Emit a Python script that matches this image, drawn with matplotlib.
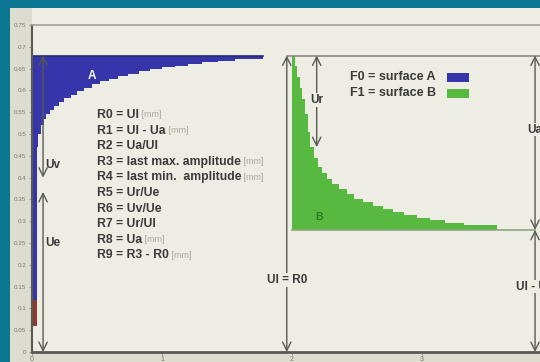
import matplotlib.pyplot as plt
from matplotlib.patches import Rectangle

# step curve bounding surface A (lower edge of the blue area)
blue_x = [0.0, 0.035, 0.05, 0.07, 0.09, 0.11, 0.14, 0.17, 0.21, 0.25, 0.30, 0.35, 0.40, 0.46,
          0.52, 0.59, 0.66, 0.74, 0.82, 0.91, 1.00, 1.10, 1.20, 1.31, 1.43, 1.56, 1.78]
blue_lo = [0.12, 0.47, 0.50, 0.52, 0.535, 0.545, 0.556, 0.565, 0.574, 0.582, 0.59, 0.598, 0.606, 0.614,
           0.621, 0.627, 0.633, 0.638, 0.644, 0.649, 0.653, 0.657, 0.661, 0.665, 0.668, 0.671, 0.671]
blue_top = 0.68
red_strip = (0.06, 0.12)

# step curve bounding surface B (upper edge of the green area)
green_x = [2.0, 2.02, 2.04, 2.06, 2.08, 2.10, 2.12, 2.14, 2.17, 2.20, 2.23, 2.27, 2.31, 2.36,
           2.42, 2.48, 2.55, 2.62, 2.70, 2.78, 2.86, 2.96, 3.06, 3.18, 3.32, 3.58]
green_top = [0.68, 0.655, 0.63, 0.605, 0.58, 0.545, 0.505, 0.47, 0.445, 0.425, 0.41, 0.397, 0.385, 0.373,
             0.362, 0.352, 0.343, 0.336, 0.328, 0.321, 0.314, 0.308, 0.302, 0.297, 0.292, 0.292]
green_base = 0.28

ratios = ['R0 = Ul', 'R1 = Ul - Ua', 'R2 = Ua/Ul', 'R3 = last max. amplitude',
          'R4 = last min.  amplitude', 'R5 = Ur/Ue', 'R6 = Uv/Ue', 'R7 = Ur/Ul',
          'R8 = Ua', 'R9 = R3 - R0']
has_unit = [True, True, False, True, True, False, False, False, True, True]
legend_labels = ['F0 = surface A', 'F1 = surface B']

yticks = [i * 0.05 for i in range(16)]
ytick_labels = ['0', '0.05', '0.1', '0.15', '0.2', '0.25', '0.3', '0.35', '0.4',
                '0.45', '0.5', '0.55', '0.6', '0.65', '0.7', '0.75']

BLUE = '#3636aa'
GREEN = '#58b940'
RED = '#8e3a34'
INK = '#3a3a3a'
LINE = '#5a5a55'
BG = '#eeede4'

plt.rcParams['font.family'] = ['Liberation Sans', 'DejaVu Sans']

fig = plt.figure(figsize=(5.4, 3.62), dpi=100, facecolor='#0b7690')
fig.patches.append(Rectangle((10 / 540, 0), 1, (362 - 8) / 362, transform=fig.transFigure,
                             facecolor='#dddcd1', edgecolor='none', zorder=-2))
fig.patches.append(Rectangle((32 / 540, 10 / 362), 1, (362 - 8 - 10) / 362, transform=fig.transFigure,
                             facecolor=BG, edgecolor='none', zorder=-1))

ax = fig.add_axes([32 / 540, 10 / 362, 508 / 540, 327 / 362])
ax.set_facecolor(BG)
ax.set_xlim(0, 3.908)
ax.set_ylim(0, 0.75)

# surfaces
ax.fill_between(blue_x, blue_lo, blue_top, step='post', color=BLUE, lw=0)
ax.fill_between([0, 0.035], red_strip[0], red_strip[1], color=RED, lw=0)
ax.plot([0, blue_x[-1]], [blue_top, blue_top], color='#2a2a70', lw=1.2)
ax.fill_between(green_x, green_base, green_top, step='post', color=GREEN, lw=0)
ax.plot([2.0, 3.87], [green_base, green_base], color='#8aa878', lw=1.2)
ax.plot([1.96, 3.908], [blue_top, blue_top], color='#8a8a85', lw=1.2)

ax.text(0.46, 0.632, 'A', color='white', fontsize=8.5, fontweight='bold', ha='center', va='center')
ax.text(2.21, 0.31, 'B', color='#2d7a22', fontsize=7.5, fontweight='bold', ha='center', va='center')


def dim(x, y0, y1, label=None, ly=None, lx=None):
    ax.annotate('', xy=(x, y1), xytext=(x, y0),
                arrowprops=dict(arrowstyle='<->,head_length=0.6,head_width=0.3',
                                color=LINE, lw=1.0, shrinkA=0, shrinkB=0))
    if label:
        ax.text(x if lx is None else lx, ly, label, fontsize=8.5, fontweight='bold', color=INK,
                ha='center' if lx is None else 'left', va='center',
                bbox=dict(facecolor=BG, edgecolor='none', pad=0.5) if lx is None else None)


dim(0.085, blue_top, 0.40, 'Uv', 0.43, lx=0.1)
dim(0.085, 0.367, 0.0, 'Ue', 0.25, lx=0.1)
dim(1.96, 0.0, blue_top, 'Ul = R0', 0.165)
dim(2.19, blue_top, 0.47, 'Ur', 0.578)
dim(3.87, blue_top, green_base, 'Ua', 0.51)
dim(3.87, green_base, 0.0, 'Ul - Ua', 0.15)

# list of ratios
y = 0.5436
for txt, unit in zip(ratios, has_unit):
    t = ax.text(0.5, y, txt, fontsize=8.8, fontweight='bold', color=INK, va='center')
    if unit:
        ax.annotate(' [mm]', xy=(1, 0.5), xycoords=t, va='center', ha='left',
                    fontsize=6.5, color='#a8a8a0')
    y -= 0.0358

# legend
for i, (lab, col) in enumerate(zip(legend_labels, [BLUE, GREEN])):
    yy = 0.63 - i * 0.037
    ax.text(2.446, yy, lab, fontsize=9, fontweight='bold', color=INK, va='center')
    ax.add_patch(Rectangle((3.19, yy - 0.011), 0.17, 0.022, facecolor=col, edgecolor='none'))

ax.spines['right'].set_visible(False)
ax.spines['left'].set_color(LINE)
ax.spines['left'].set_linewidth(1.5)
ax.spines['bottom'].set_color(LINE)
ax.spines['bottom'].set_linewidth(2)
ax.spines['top'].set_color('#a0a09a')
ax.spines['top'].set_linewidth(1.2)

ax.set_yticks(yticks)
ax.set_yticklabels(ytick_labels)
ax.set_xticks([0, 1, 2, 3])
ax.tick_params(axis='y', labelsize=4.5, labelcolor='#777770', length=2, color='#999990', pad=2)
ax.tick_params(axis='x', labelsize=5, labelcolor='#777770', length=2, color='#999990', pad=1)

fig.savefig('out.png', dpi=100, facecolor=fig.get_facecolor())
